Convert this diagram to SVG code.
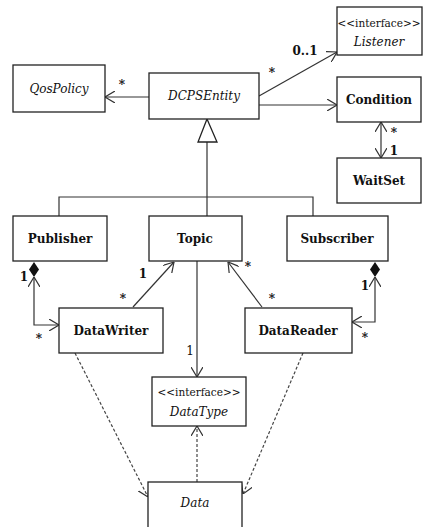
<svg xmlns="http://www.w3.org/2000/svg" width="423" height="527" viewBox="0 0 423 527">
<style>
.box{fill:#fff;stroke:#222;stroke-width:1.3}
.ln{fill:none;stroke:#333;stroke-width:1.2}
.dash{fill:none;stroke:#444;stroke-width:1.2;stroke-dasharray:3,2}
text{font-family:"DejaVu Serif","Liberation Serif",serif;fill:#111;text-anchor:middle}
.t{font-size:12px}
.st{font-size:10.5px}
.b{font-weight:bold}
.i{font-style:italic}
.lab{font-size:12px;font-weight:bold}
</style>
<defs>
<marker id="oa" viewBox="0 0 10 12" refX="10" refY="6" markerWidth="10" markerHeight="12" markerUnits="userSpaceOnUse" orient="auto-start-reverse">
<path d="M0,0 L10,6 L0,12" fill="none" stroke="#333" stroke-width="1.2"/>
</marker>
</defs>
<rect width="423" height="527" fill="#fff"/>
<g id="connectors">
<path class="ln" d="M149,97 H105" marker-end="url(#oa)"/>
<path class="ln" d="M259,96 L337,52" marker-end="url(#oa)"/>
<path class="ln" d="M259,105 H337" marker-end="url(#oa)"/>
<path class="ln" d="M381,122 V158" marker-start="url(#oa)" marker-end="url(#oa)"/>
<path class="ln" d="M207,142 V197 M59,216 V197 H313 V216 M207,197 V216"/>
<polygon points="207,119 217,142 198,142" fill="#fff" stroke="#222" stroke-width="1.3"/>
<path class="ln" d="M34,277 V325 H59" marker-start="url(#oa)" marker-end="url(#oa)"/>
<polygon points="34,262 39,269.5 34,277 29,269.5" fill="#111"/>
<path class="ln" d="M375,277 V322 H352" marker-start="url(#oa)" marker-end="url(#oa)"/>
<polygon points="375,262 380,269.5 375,277 370,269.5" fill="#111"/>
<path class="ln" d="M133,307 L174,262" marker-end="url(#oa)"/>
<path class="ln" d="M262,307 L228,262" marker-end="url(#oa)"/>
<path class="ln" d="M197,261 V377" marker-end="url(#oa)"/>
<path class="dash" d="M75,353 L148,497" marker-end="url(#oa)"/>
<path class="dash" d="M303,353 L243,494" marker-end="url(#oa)"/>
<path class="dash" d="M197,482 V426" marker-end="url(#oa)"/>
<text class="lab" x="122" y="89">*</text>
<text class="lab" x="272" y="77">*</text>
<text class="lab" x="305" y="55">0..1</text>
<text class="lab" x="394" y="137">*</text>
<text class="lab" x="394" y="155">1</text>
<text class="lab" x="24" y="281">1</text>
<text class="lab" x="39" y="343">*</text>
<text class="lab" x="143" y="278">1</text>
<text class="lab" x="123" y="303">*</text>
<text class="lab" x="248" y="271">*</text>
<text class="lab" x="272" y="303">*</text>
<text class="lab" x="365" y="290">1</text>
<text class="lab" x="365" y="342">*</text>
<text class="t" x="190" y="355">1</text>
</g>
<g id="listener"><rect class="box" x="337" y="7" width="85" height="48"/><text class="st" x="379" y="27">&lt;&lt;interface&gt;&gt;</text><text class="t i" x="379" y="46">Listener</text></g>
<g id="qospolicy"><rect class="box" x="13" y="65" width="92" height="47"/><text class="t i" x="59" y="93">QosPolicy</text></g>
<g id="dcpsentity"><rect class="box" x="149" y="73" width="110" height="46"/><text class="t i" x="204" y="100">DCPSEntity</text></g>
<g id="condition"><rect class="box" x="337" y="77" width="84" height="45"/><text class="t b" x="379" y="104">Condition</text></g>
<g id="waitset"><rect class="box" x="337" y="158" width="84" height="45"/><text class="t b" x="379" y="185">WaitSet</text></g>
<g id="publisher"><rect class="box" x="13" y="216" width="94" height="45"/><text class="t b" x="60" y="243">Publisher</text></g>
<g id="topic"><rect class="box" x="149" y="216" width="93" height="45"/><text class="t b" x="195" y="243">Topic</text></g>
<g id="subscriber"><rect class="box" x="287" y="216" width="101" height="45"/><text class="t b" x="337" y="243">Subscriber</text></g>
<g id="datawriter"><rect class="box" x="59" y="308" width="104" height="45"/><text class="t b" x="111" y="335">DataWriter</text></g>
<g id="datareader"><rect class="box" x="245" y="308" width="107" height="45"/><text class="t b" x="298" y="335">DataReader</text></g>
<g id="datatype"><rect class="box" x="152" y="377" width="94" height="49"/><text class="st" x="199" y="396">&lt;&lt;interface&gt;&gt;</text><text class="t i" x="199" y="416">DataType</text></g>
<g id="data"><rect class="box" x="148" y="482" width="94" height="50"/><text class="t i" x="195" y="507">Data</text></g>
</svg>
